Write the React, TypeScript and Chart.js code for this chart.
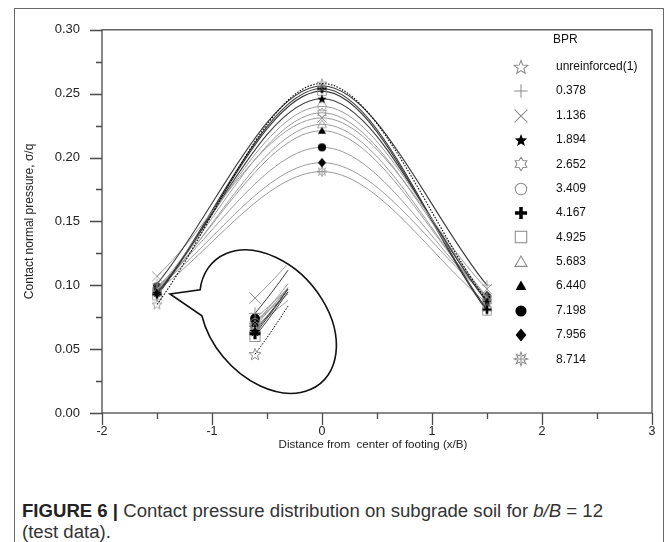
import React, { useEffect, useRef } from 'react';
import { Chart, registerables } from 'chart.js';
Chart.register(...registerables);

// ---- data ----
const xPositions = [-1.5, 0, 1.5];
const bprLabels = ['unreinforced(1)', '0.378', '1.136', '1.894', '2.652', '3.409', '4.167', '4.925', '5.683', '6.440', '7.198', '7.956', '8.714'];
const unreinforced = [0.085, 0.258, 0.088];
const bpr0378 = [0.101, 0.256, 0.100];
const bpr1136 = [0.107, 0.231, 0.097];
const bpr1894 = [0.094, 0.246, 0.087];
const bpr2652 = [0.096, 0.235, 0.090];
const bpr3409 = [0.097, 0.240, 0.091];
const bpr4167 = [0.093, 0.254, 0.081];
const bpr4925 = [0.092, 0.252, 0.080];
const bpr5683 = [0.095, 0.226, 0.089];
const bpr6440 = [0.097, 0.221, 0.090];
const bpr7198 = [0.099, 0.208, 0.091];
const bpr7956 = [0.098, 0.196, 0.092];
const bpr8714 = [0.096, 0.189, 0.086];
const seriesValues = [unreinforced, bpr0378, bpr1136, bpr1894, bpr2652, bpr3409, bpr4167, bpr4925, bpr5683, bpr6440, bpr7198, bpr7956, bpr8714];

// ---- styles ----
const markerKinds = ['star5open', 'plus', 'x', 'star5fill', 'hexagram', 'circleOpen', 'plusThick', 'squareOpen', 'triOpen', 'triFill', 'circleFill', 'diamondFill', 'burst'];
const lineKinds = ['dot', 'dark', 'gray', 'dark', 'gray', 'gray', 'dark', 'dark', 'gray', 'gray', 'gray', 'gray', 'gray'];

const GRAY = '#8a8a8a';
const FONT = "'Liberation Sans', Arial, Helvetica, sans-serif";

function starPath(ctx: CanvasRenderingContext2D, cx: number, cy: number, n: number, ro: number, ri: number) {
  ctx.beginPath();
  for (let k = 0; k < 2 * n; k++) {
    const r = k % 2 === 0 ? ro : ri;
    const a = -Math.PI / 2 + (k * Math.PI) / n;
    const px = cx + r * Math.cos(a);
    const py = cy + r * Math.sin(a);
    if (k === 0) ctx.moveTo(px, py);
    else ctx.lineTo(px, py);
  }
  ctx.closePath();
}

function drawMarker(ctx: CanvasRenderingContext2D, kind: string, cx: number, cy: number, s: number) {
  const r = s / 2;
  ctx.save();
  ctx.lineWidth = Math.max(0.8, s / 13);
  ctx.strokeStyle = GRAY;
  ctx.fillStyle = '#000';
  ctx.lineJoin = 'miter';
  switch (kind) {
    case 'star5open':
      starPath(ctx, cx, cy + r * 0.08, 5, r * 1.05, r * 0.45);
      ctx.stroke();
      break;
    case 'plus':
      ctx.beginPath();
      ctx.moveTo(cx - r, cy); ctx.lineTo(cx + r, cy);
      ctx.moveTo(cx, cy - r); ctx.lineTo(cx, cy + r);
      ctx.stroke();
      break;
    case 'x': {
      const d = r * 0.95;
      ctx.beginPath();
      ctx.moveTo(cx - d, cy - d); ctx.lineTo(cx + d, cy + d);
      ctx.moveTo(cx + d, cy - d); ctx.lineTo(cx - d, cy + d);
      ctx.stroke();
      break;
    }
    case 'star5fill':
      starPath(ctx, cx, cy + r * 0.08, 5, r * 0.98, r * 0.42);
      ctx.fill();
      break;
    case 'hexagram':
      starPath(ctx, cx, cy, 6, r, r * 0.6);
      ctx.stroke();
      break;
    case 'circleOpen':
      ctx.beginPath();
      ctx.arc(cx, cy, r * 0.85, 0, Math.PI * 2);
      ctx.stroke();
      break;
    case 'plusThick':
      ctx.strokeStyle = '#000';
      ctx.lineWidth = s * 0.26;
      ctx.beginPath();
      ctx.moveTo(cx - r * 0.9, cy); ctx.lineTo(cx + r * 0.9, cy);
      ctx.moveTo(cx, cy - r * 0.9); ctx.lineTo(cx, cy + r * 0.9);
      ctx.stroke();
      break;
    case 'squareOpen':
      ctx.strokeRect(cx - r * 0.85, cy - r * 0.85, r * 1.7, r * 1.7);
      break;
    case 'triOpen':
      ctx.beginPath();
      ctx.moveTo(cx, cy - r * 0.9);
      ctx.lineTo(cx + r * 0.9, cy + r * 0.65);
      ctx.lineTo(cx - r * 0.9, cy + r * 0.65);
      ctx.closePath();
      ctx.stroke();
      break;
    case 'triFill':
      ctx.beginPath();
      ctx.moveTo(cx, cy - r * 0.8);
      ctx.lineTo(cx + r * 0.8, cy + r * 0.6);
      ctx.lineTo(cx - r * 0.8, cy + r * 0.6);
      ctx.closePath();
      ctx.fill();
      break;
    case 'circleFill':
      ctx.beginPath();
      ctx.arc(cx, cy, r * 0.82, 0, Math.PI * 2);
      ctx.fill();
      break;
    case 'diamondFill':
      ctx.beginPath();
      ctx.moveTo(cx, cy - r * 0.95);
      ctx.lineTo(cx + r * 0.8, cy);
      ctx.lineTo(cx, cy + r * 0.95);
      ctx.lineTo(cx - r * 0.8, cy);
      ctx.closePath();
      ctx.fill();
      break;
    case 'burst':
      starPath(ctx, cx, cy, 8, r, r * 0.5);
      ctx.stroke();
      ctx.beginPath();
      ctx.moveTo(cx, cy - r * 0.5); ctx.lineTo(cx, cy + r * 0.5);
      ctx.moveTo(cx - r * 0.5, cy); ctx.lineTo(cx + r * 0.5, cy);
      ctx.stroke();
      break;
  }
  ctx.restore();
}

function makeMarkerCanvas(kind: string, s: number): HTMLCanvasElement {
  const c = document.createElement('canvas');
  const dim = Math.ceil(s + 6);
  c.width = dim;
  c.height = dim;
  const ctx = c.getContext('2d')!;
  drawMarker(ctx, kind, dim / 2, dim / 2, s);
  return c;
}

function lineColor(k: string) {
  if (k === 'dot') return '#000';
  if (k === 'dark') return '#3a3a3a';
  return '#9a9a9a';
}

// balloon (call-out) geometry
const balloonCenter = [-0.491, 0.0715];
const balloonTip = [-1.382, 0.0932];
const insetAnchor = [-1.5, 0.0964];
const insetCenter = [-0.609, 0.0688];

function drawInset(chart: any) {
  const ctx: CanvasRenderingContext2D = chart.ctx;
  const xs = chart.scales.x;
  const ys = chart.scales.y;
  const cx = xs.getPixelForValue(balloonCenter[0]);
  const cy = ys.getPixelForValue(balloonCenter[1]);
  const a = 81, b = 57, rot = 0.855;
  const tipX = xs.getPixelForValue(balloonTip[0]);
  const tipY = ys.getPixelForValue(balloonTip[1]);
  const angUpper = 2.581, angLower = 2.203;

  ctx.save();
  const outline = () => {
    ctx.beginPath();
    ctx.ellipse(cx, cy, a, b, rot, angUpper, angLower + Math.PI * 2, false);
    ctx.lineTo(tipX, tipY);
    ctx.closePath();
  };
  outline();
  ctx.fillStyle = '#fff';
  ctx.fill();

  ctx.save();
  ctx.beginPath();
  ctx.ellipse(cx, cy, a - 2, b - 2, rot, 0, Math.PI * 2);
  ctx.clip();
  const ax = xs.getPixelForValue(insetAnchor[0]);
  const ay = ys.getPixelForValue(insetAnchor[1]);
  const icx = xs.getPixelForValue(insetCenter[0]);
  const icy = ys.getPixelForValue(insetCenter[1]);
  const M = 2;
  const map = (px: number, py: number) => [icx + M * (px - ax), icy + M * (py - ay)];
  const metas = chart.getSortedVisibleDatasetMetas();
  const order = [...metas].reverse();
  for (const meta of order) {
    const p0 = meta.data[0];
    const p1 = meta.data[1];
    if (!p0 || !p1) continue;
    const ds = chart.data.datasets[meta.index];
    const c1x = p0.cp2x ?? p0.x, c1y = p0.cp2y ?? p0.y;
    const c2x = p1.cp1x ?? p1.x, c2y = p1.cp1y ?? p1.y;
    ctx.beginPath();
    for (let i = 0; i <= 12; i++) {
      const t = (0.1 * i) / 12;
      const u = 1 - t;
      const bx = u * u * u * p0.x + 3 * u * u * t * c1x + 3 * u * t * t * c2x + t * t * t * p1.x;
      const by = u * u * u * p0.y + 3 * u * u * t * c1y + 3 * u * t * t * c2y + t * t * t * p1.y;
      const [mx, my] = map(bx, by);
      if (i === 0) ctx.moveTo(mx, my);
      else ctx.lineTo(mx, my);
    }
    ctx.strokeStyle = ds.borderColor;
    ctx.lineWidth = 1;
    ctx.setLineDash(ds.borderDash || []);
    ctx.stroke();
    ctx.setLineDash([]);
  }
  for (const meta of order) {
    const p0 = meta.data[0];
    if (!p0) continue;
    const [mx, my] = map(p0.x, p0.y);
    drawMarker(ctx, markerKinds[meta.index], mx, my, 12);
  }
  ctx.restore();

  outline();
  ctx.strokeStyle = '#111';
  ctx.lineWidth = 1.6;
  ctx.stroke();
  ctx.restore();
}

function makeDecorPlugin(legendMarkers: HTMLCanvasElement[]) {
  return {
    id: 'decor',
    afterDatasetsDraw(chart: any) {
      drawInset(chart);
    },
    afterDraw(chart: any) {
      const ctx: CanvasRenderingContext2D = chart.ctx;
      const area = chart.chartArea;
      const xs = chart.scales.x;
      const ys = chart.scales.y;
      ctx.save();
      ctx.strokeStyle = '#4a4a4a';
      ctx.lineWidth = 1.3;
      ctx.strokeRect(area.left, area.top, area.right - area.left, area.bottom - area.top);
      ctx.beginPath();
      for (let i = 0; i <= 12; i++) {
        const v = i * 0.025;
        const py = Math.round(ys.getPixelForValue(v)) + 0.5;
        const len = i % 2 === 0 ? 12 : 6;
        ctx.moveTo(area.left - len, py);
        ctx.lineTo(area.left, py);
      }
      for (let i = 0; i <= 10; i++) {
        const v = -2 + i * 0.5;
        const px = Math.round(xs.getPixelForValue(v)) + 0.5;
        const len = i % 2 === 0 ? 12 : 6;
        ctx.moveTo(px, area.bottom);
        ctx.lineTo(px, area.bottom + len);
      }
      ctx.stroke();

      ctx.fillStyle = '#222';
      ctx.font = `11.6px ${FONT}`;
      ctx.textAlign = 'center';
      ctx.textBaseline = 'middle';
      ctx.fillText('Distance from  center of footing (x/B)', (area.left + area.right) / 2 - 4, 445);
      ctx.save();
      ctx.translate(30, (area.top + area.bottom) / 2);
      ctx.rotate(-Math.PI / 2);
      ctx.font = `12px ${FONT}`;
      ctx.fillText('Contact normal pressure, \u03c3/q', 0, 0);
      ctx.restore();

      ctx.font = `12px ${FONT}`;
      ctx.textAlign = 'left';
      ctx.textBaseline = 'middle';
      ctx.fillStyle = '#111';
      ctx.fillText('BPR', 553, 40);
      bprLabels.forEach((lab, i) => {
        const rowY = 66.8 + i * 24.37;
        const img = legendMarkers[i];
        if (img) ctx.drawImage(img, Math.round(521 - img.width / 2), Math.round(rowY - img.height / 2));
        ctx.fillText(lab, 556, rowY);
      });
      ctx.restore();
    },
  };
}

export default function App() {
  const ref = useRef<HTMLCanvasElement>(null);
  const capRef = useRef<HTMLDivElement>(null);
  const line1Ref = useRef<HTMLSpanElement>(null);
  useEffect(() => {
    document.body.style.margin = '0';
    if (line1Ref.current && capRef.current) {
      const w = line1Ref.current.getBoundingClientRect().width;
      if (w > 0) {
        capRef.current.style.transform = `scaleX(${581 / w})`;
      }
    }
    const dataMarkers = markerKinds.map((k) => makeMarkerCanvas(k, 10));
    const legendMarkers = markerKinds.map((k) => makeMarkerCanvas(k, 13.5));
    const datasets = seriesValues.map((vals, i) => ({
      label: bprLabels[i],
      data: xPositions.map((x, j) => ({ x, y: vals[j] })),
      borderColor: lineColor(lineKinds[i]),
      borderWidth: lineKinds[i] === 'gray' ? 1 : 1.1,
      borderDash: lineKinds[i] === 'dot' ? [1.5, 1.5] : [],
      pointStyle: dataMarkers[i] as any,
      pointRadius: 4,
      cubicInterpolationMode: 'monotone' as const,
      fill: false,
    }));
    const chart = new Chart(ref.current!, {
      type: 'line',
      data: { datasets },
      options: {
        animation: false,
        responsive: false,
        devicePixelRatio: 1,
        layout: { padding: { left: 0, right: 17, top: 29.5, bottom: 0 } },
        plugins: { legend: { display: false }, tooltip: { enabled: false } },
        scales: {
          x: {
            type: 'linear',
            min: -2,
            max: 3,
            ticks: { stepSize: 1, padding: 11, color: '#222', font: { family: FONT, size: 12.5 }, maxRotation: 0, autoSkip: false },
            grid: { display: false, drawTicks: false },
            border: { display: false },
            afterFit: (s: any) => {
              s.height = 57;
            },
          },
          y: {
            type: 'linear',
            min: 0,
            max: 0.3,
            ticks: {
              stepSize: 0.05,
              padding: 22,
              color: '#222',
              font: { family: FONT, size: 13 },
              callback: (v: any) => Number(v).toFixed(2),
            },
            grid: { display: false, drawTicks: false },
            border: { display: false },
            afterFit: (s: any) => {
              s.width = 102;
            },
          },
        },
      },
      plugins: [makeDecorPlugin(legendMarkers) as any],
    });
    return () => chart.destroy();
  }, []);

  return (
    <div style={{ position: 'absolute', left: 0, top: 0, width: 669, height: 542, background: '#fff', overflow: 'hidden' }}>
      <div
        style={{
          position: 'absolute',
          left: 14,
          top: 8,
          width: 650,
          height: 600,
          border: '1.5px solid #6a6a6a',
          boxSizing: 'border-box',
        }}
      />
      <canvas ref={ref} width={669} height={470} style={{ position: 'absolute', left: 0, top: 0 }} />
      <div
        ref={capRef}
        style={{
          position: 'absolute',
          left: 22,
          top: 501,
          width: 800,
          fontFamily: "'Liberation Sans', Arial, sans-serif",
          fontSize: 18,
          lineHeight: '21px',
          color: '#333',
          transformOrigin: 'left top',
          whiteSpace: 'nowrap',
        }}
      >
        <span ref={line1Ref}>
          <b style={{ color: '#222' }}>FIGURE 6 |</b> Contact pressure distribution on subgrade soil for <i>b/B</i> = 12
        </span>
        <br />
        <span>(test data).</span>
      </div>
    </div>
  );
}
